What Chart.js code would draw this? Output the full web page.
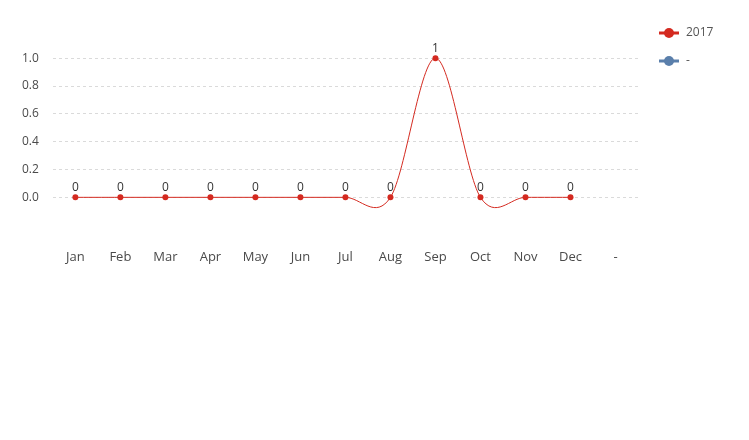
<!DOCTYPE html>
<html>
<head>
<meta charset="utf-8">
<script src="https://cdn.jsdelivr.net/npm/chart.js@4/dist/chart.umd.min.js"></script>
<style>
  body { margin: 0; background: #fff; }
  canvas { display: block; }
</style>
</head>
<body>
<canvas id="myChart" width="749" height="440"></canvas>
<script>
let months = ['Jan', 'Feb', 'Mar', 'Apr', 'May', 'Jun', 'Jul', 'Aug', 'Sep', 'Oct', 'Nov', 'Dec', '-'];
let values2017 = [0, 0, 0, 0, 0, 0, 0, 0, 1, 0, 0, 0, null];
let valuesDash = [null, null, null, null, null, null, null, null, null, null, null, null, null];
let yTicks = [0, 0.2, 0.4, 0.6, 0.8, 1.0];
let seriesNames = ['2017', '-'];
let seriesColors = ['#d42a20', '#5a7fab'];

let fontFamily = "'Open Sans', 'Noto Sans', sans-serif";

// plain catmull-rom control points (uniform), like the original spline
let uniformSpline = {
  id: 'uniformSpline',
  beforeDatasetDraw(chart, args) {
    let meta = args.meta;
    if (!meta.dataset) return;
    meta.dataset.updateControlPoints(chart.chartArea, 'x');
    let pts = meta.data;
    for (let i = 0; i < pts.length; i++) {
      let p = pts[i];
      if (p.skip) continue;
      let prev = (i > 0 && !pts[i - 1].skip) ? pts[i - 1] : p;
      let next = (i < pts.length - 1 && !pts[i + 1].skip) ? pts[i + 1] : p;
      let dx = (next.x - prev.x) / 6;
      let dy = (next.y - prev.y) / 6;
      p.cp1x = p.x - dx;
      p.cp1y = p.y - dy;
      p.cp2x = p.x + dx;
      p.cp2y = p.y + dy;
    }
  }
};

// value labels above the 2017 points
let valueLabels = {
  id: 'valueLabels',
  afterDatasetsDraw(chart) {
    let ctx = chart.ctx;
    let meta = chart.getDatasetMeta(0);
    ctx.save();
    ctx.font = '12px ' + fontFamily;
    ctx.fillStyle = '#333';
    ctx.textAlign = 'center';
    ctx.textBaseline = 'bottom';
    meta.data.forEach(function (pt, i) {
      let v = chart.data.datasets[0].data[i];
      if (v === null) return;
      ctx.fillText(String(v), pt.x, pt.y - 4);
    });
    ctx.restore();
  }
};

// legend on the right, line + dot symbols
let sideLegend = {
  id: 'sideLegend',
  afterDraw(chart) {
    let ctx = chart.ctx;
    ctx.save();
    chart.data.datasets.forEach(function (ds, i) {
      let y = 33 + i * 28;
      ctx.strokeStyle = ds.borderColor;
      ctx.lineWidth = 3;
      ctx.beginPath();
      ctx.moveTo(659, y);
      ctx.lineTo(679, y);
      ctx.stroke();
      ctx.fillStyle = ds.borderColor;
      ctx.beginPath();
      ctx.arc(669, y, 5, 0, Math.PI * 2);
      ctx.fill();
      ctx.font = '12px ' + fontFamily;
      ctx.fillStyle = '#555';
      ctx.textAlign = 'left';
      ctx.textBaseline = 'middle';
      ctx.fillText(ds.label, 686, y);
    });
    ctx.restore();
  }
};

let ctx = document.getElementById('myChart').getContext('2d');

window.myChart = new Chart(ctx, {
  type: 'line',
  data: {
    labels: months,
    datasets: [{
      label: seriesNames[0],
      data: values2017,
      borderColor: seriesColors[0],
      backgroundColor: seriesColors[0],
      borderWidth: 1,
      pointRadius: 3,
      pointBorderWidth: 0,
      tension: 0.4,
      clip: false
    }, {
      label: seriesNames[1],
      data: valuesDash,
      borderColor: seriesColors[1],
      backgroundColor: seriesColors[1],
      borderWidth: 1,
      pointRadius: 3
    }]
  },
  options: {
    responsive: false,
    animation: false,
    layout: { padding: { top: 20, right: 111, bottom: 163, left: 8 } },
    plugins: {
      legend: { display: false },
      tooltip: { enabled: false }
    },
    scales: {
      x: {
        offset: true,
        grid: { display: false, drawTicks: false },
        border: { display: false },
        ticks: { color: '#4a4a4a', padding: 12, font: { family: fontFamily, size: 13 } }
      },
      y: {
        min: -0.288,
        max: 1.266,
        afterBuildTicks: function (axis) {
          axis.ticks = yTicks.map(function (v) { return { value: v }; });
        },
        grid: { color: '#dadada', drawTicks: false },
        border: { display: false, dash: [3, 3] },
        ticks: {
          color: '#4a4a4a',
          padding: 14,
          font: { family: fontFamily, size: 12 },
          callback: function (v) { return Number(v).toFixed(1); }
        }
      }
    }
  },
  plugins: [uniformSpline, valueLabels, sideLegend]
});
</script>
</body>
</html>
